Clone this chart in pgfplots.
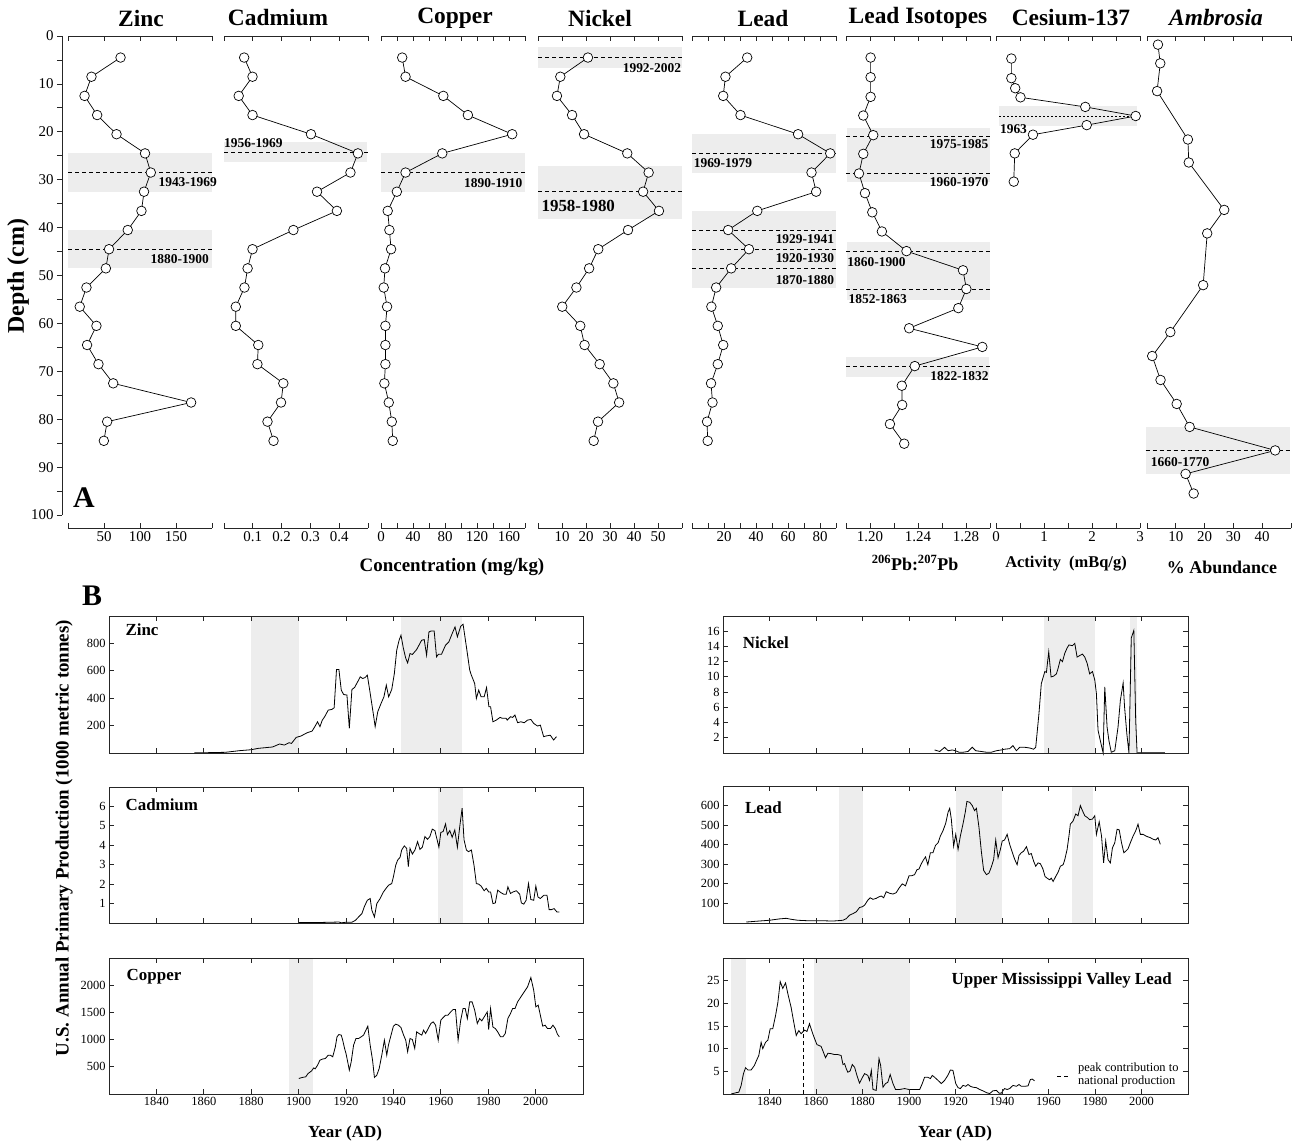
\documentclass[border=0pt]{standalone}
\usepackage{fontspec}
\setmainfont{Liberation Serif}
\usepackage{pgfplots}
\pgfplotsset{compat=1.18}
\definecolor{shade}{RGB}{237,237,237}
\newcommand\fs[1]{\fontsize{#1}{#1}\selectfont}
\tikzset{lab/.style={font=\bfseries\fs{13.5}, inner sep=0pt}}
\pgfplotsset{
  base/.style={scale only axis, anchor=north west, /pgf/number format/assume math mode=true,
    /pgf/number format/1000 sep={},
    axis line style={line width=0.8bp, black!85}, tick style={line width=0.8bp, black!85},
    major tick length=5bp, minor tick length=5bp, tick align=inside, clip=false},
  pA/.style={base, width=144bp, height=492bp, y dir=reverse, ymin=0, ymax=102.7,
     axis x line=box, axis y line=none, ytick=\empty,
     xticklabel style={font=\fs{15}}, extra x tick labels={}},
  dat/.style={black, line width=0.7bp, mark=*, mark size=4.8bp, mark options={fill=white, draw=black, line width=0.7bp}},
  band/.style={fill=shade, draw=none, forget plot},
  dsh/.style={black, line width=0.9bp, dash pattern=on 4bp off 3bp, forget plot},
  pB/.style={base, xmin=1820, xmax=2020, xtick={1840,1860,...,2000}, ymin=0,
     axis on top, ticklabel style={font=\fs{12.5}}},
  bl/.style={black, line width=0.8bp, no marks},
}
\begin{document}
\begin{tikzpicture}
\useasboundingbox (0,0) rectangle (1295bp,-1146bp);
% ---------------- Panel A ----------------
\begin{axis}[base, at={(62bp,-36bp)}, width=20bp, height=479bp, y dir=reverse, ymin=0, ymax=100,
  xmin=0, xmax=1, axis x line=none, axis y line*=left, ytick={0,10,...,100}, minor ytick={5,15,...,95},
  tick align=outside, yticklabel style={font=\fs{15}}]
\end{axis}
% Zinc
\begin{axis}[pA, at={(68bp,-36bp)}, xmin=0, xmax=200, xtick={50,100,150}, extra x ticks={0,200}]
\addplot[band] coordinates {(0,24.4) (200,24.4) (200,32.5) (0,32.5)};
\addplot[band] coordinates {(0,40.5) (200,40.5) (200,48.5) (0,48.5)};
\addplot[dsh] coordinates {(0,28.5) (200,28.5)};
\addplot[dsh] coordinates {(0,44.5) (200,44.5)};
\addplot[dat] coordinates {(73,4.5) (32.6,8.5) (23,12.5) (40.5,16.5) (67.4,20.5) (107,24.5) (115,28.5) (105.6,32.5) (102,36.5) (83,40.5) (57,44.5) (52.6,48.5) (25.6,52.5) (16.3,56.5) (39.5,60.5) (26.5,64.5) (42.3,68.5) (62.8,72.5) (171,76.5) (54.4,80.5) (49.8,84.5)};
\node[lab, anchor=east] at (axis cs:207,30.6) {1943-1969};
\node[lab, anchor=east] at (axis cs:196,46.6) {1880-1900};
\end{axis}
% Cadmium
\begin{axis}[pA, at={(224bp,-36bp)}, xmin=0, xmax=0.5, xtick={0.1,0.2,0.3,0.4}, xticklabels={0.1,0.2,0.3,0.4}, extra x ticks={0,0.5}]
\addplot[band] coordinates {(0,22.2) (0.495,22.2) (0.495,26.3) (0,26.3)};
\addplot[dsh] coordinates {(0,24.4) (0.5,24.4)};
\addplot[dat] coordinates {(0.07,4.5) (0.099,8.5) (0.051,12.5) (0.099,16.5) (0.302,20.5) (0.465,24.5) (0.439,28.5) (0.323,32.5) (0.392,36.5) (0.241,40.5) (0.099,44.5) (0.082,48.5) (0.071,52.5) (0.041,56.5) (0.041,60.5) (0.119,64.5) (0.116,68.5) (0.206,72.5) (0.198,76.5) (0.151,80.5) (0.172,84.5)};
\node[lab, anchor=west] at (axis cs:0,22.4) {1956-1969};
\end{axis}
% Copper
\begin{axis}[pA, at={(381bp,-36bp)}, xmin=0, xmax=180, xtick={0,40,80,120,160}, extra x ticks={20,60,100,140,180}]
\addplot[band] coordinates {(0,24.5) (180,24.5) (180,32.5) (0,32.5)};
\addplot[dsh] coordinates {(0,28.5) (180,28.5)};
\addplot[dat] coordinates {(26.5,4.5) (30.7,8.5) (77.9,12.5) (108.6,16.5) (164,20.5) (76.6,24.5) (30.7,28.5) (19.8,32.5) (8.4,36.5) (10.5,40.5) (12.6,44.5) (5,48.5) (3.4,52.5) (7.6,56.5) (5.5,60.5) (5.5,64.5) (5.5,68.5) (4.2,72.5) (9.7,76.5) (13.5,80.5) (14.7,84.5)};
\node[lab, anchor=east] at (axis cs:177,30.8) {1890-1910};
\end{axis}
% Nickel
\begin{axis}[pA, at={(538bp,-36bp)}, xmin=0, xmax=60, xtick={10,20,30,40,50}, extra x ticks={0,60}]
\addplot[band] coordinates {(0,2.2) (60,2.2) (60,6.7) (0,6.7)};
\addplot[band] coordinates {(0,27.2) (60,27.2) (60,38.1) (0,38.1)};
\addplot[dsh] coordinates {(0,4.5) (60,4.5)};
\addplot[dsh] coordinates {(0,32.5) (60,32.5)};
\addplot[dat] coordinates {(20.8,4.5) (9.3,8.5) (7.9,12.5) (14.2,16.5) (19.2,20.5) (37.2,24.5) (46.1,28.5) (43.8,32.5) (50.4,36.5) (37.5,40.5) (25.1,44.5) (21.3,48.5) (16,52.5) (10.1,56.5) (17.6,60.5) (19.4,64.5) (25.7,68.5) (31.4,72.5) (33.8,76.5) (25,80.5) (23.2,84.5)};
\node[lab, anchor=east] at (axis cs:59.7,6.6) {1992-2002};
\node[lab, font=\bfseries\fs{17}, anchor=west] at (axis cs:1.4,35.4) {1958-1980};
\end{axis}
% Lead
\begin{axis}[pA, at={(692bp,-36bp)}, xmin=0, xmax=90, xtick={20,40,60,80}, extra x ticks={0,10,30,50,70,90}]
\addplot[band] coordinates {(0,20.5) (90,20.5) (90,28.6) (0,28.6)};
\addplot[band] coordinates {(0,36.6) (90,36.6) (90,52.6) (0,52.6)};
\addplot[dsh] coordinates {(0,24.5) (90,24.5)};
\addplot[dsh] coordinates {(0,40.5) (90,40.5)};
\addplot[dsh] coordinates {(0,44.6) (90,44.6)};
\addplot[dsh] coordinates {(0,48.6) (90,48.6)};
\addplot[dat] coordinates {(34.5,4.5) (20.9,8.5) (19.5,12.5) (30.3,16.5) (66.3,20.5) (86.4,24.5) (74.7,28.5) (77.6,32.5) (40.8,36.5) (22.6,40.5) (35.6,44.5) (24.5,48.5) (15.1,52.5) (12.1,56.5) (16.1,60.5) (19.5,64.5) (16.1,68.5) (11.9,72.5) (12.8,76.5) (9.4,80.5) (9.8,84.5)};
\node[lab, anchor=west] at (axis cs:1,26.6) {1969-1979};
\node[lab, anchor=east] at (axis cs:88.9,42.3) {1929-1941};
\node[lab, anchor=east] at (axis cs:88.9,46.3) {1920-1930};
\node[lab, anchor=east] at (axis cs:88.9,50.9) {1870-1880};
\end{axis}
% Lead isotopes
\begin{axis}[pA, at={(846bp,-36bp)}, xmin=1.18, xmax=1.30, xtick={1.20,1.24,1.28}, xticklabels={1.20,1.24,1.28}, extra x ticks={1.18,1.22,1.26,1.30}]
\addplot[band] coordinates {(1.181,19.3) (1.30,19.3) (1.30,30.5) (1.181,30.5)};
\addplot[band] coordinates {(1.181,42.9) (1.30,42.9) (1.30,55.1) (1.181,55.1)};
\addplot[band] coordinates {(1.18,66.9) (1.299,66.9) (1.299,71.1) (1.18,71.1)};
\addplot[dsh] coordinates {(1.18,20.9) (1.30,20.9)};
\addplot[dsh] coordinates {(1.18,28.7) (1.30,28.7)};
\addplot[dsh] coordinates {(1.18,44.9) (1.30,44.9)};
\addplot[dsh] coordinates {(1.18,52.8) (1.30,52.8)};
\addplot[dsh] coordinates {(1.18,69.0) (1.30,69.0)};
\addplot[dat] coordinates {(1.2005,4.5) (1.2005,8.6) (1.2005,12.7) (1.1944,16.6) (1.2027,20.7) (1.1944,24.6) (1.1908,28.7) (1.1958,32.8) (1.2019,36.8) (1.2099,40.8) (1.2304,44.9) (1.2775,48.9) (1.2803,52.8) (1.2736,56.8) (1.2326,61.0) (1.2936,64.9) (1.2373,68.9) (1.2265,73.0) (1.2268,77.0) (1.2166,81.0) (1.2285,85.1)};
\node[lab, anchor=east] at (axis cs:1.2987,22.5) {1975-1985};
\node[lab, anchor=east] at (axis cs:1.2987,30.4) {1960-1970};
\node[lab, anchor=west] at (axis cs:1.181,47.2) {1860-1900};
\node[lab, anchor=west] at (axis cs:1.182,54.9) {1852-1863};
\node[lab, anchor=east] at (axis cs:1.299,71.0) {1822-1832};
\end{axis}
% Cesium
\begin{axis}[pA, at={(996bp,-36bp)}, xmin=0, xmax=3, xtick={0,1,2,3}, extra x ticks={0.5,1.5,2.5}]
\addplot[band] coordinates {(0.07,14.6) (2.93,14.6) (2.93,18.7) (0.07,18.7)};
\addplot[black, line width=0.9bp, dash pattern=on 2bp off 2bp, forget plot] coordinates {(0.07,16.7) (2.9,16.7)};
\addplot[dat] coordinates {(0.32,4.7) (0.32,8.8) (0.40,10.9) (0.51,12.8) (1.86,14.8) (2.91,16.7) (1.89,18.6) (0.77,20.6) (0.39,24.5) (0.37,30.4)};
\node[lab, anchor=west] at (axis cs:0.08,19.4) {1963};
\end{axis}
% Ambrosia
\begin{axis}[pA, at={(1147bp,-36bp)}, xmin=0, xmax=50, xtick={10,20,30,40}, extra x ticks={0,50}]
\addplot[band] coordinates {(-0.5,81.6) (49.5,81.6) (49.5,91.4) (-0.5,91.4)};
\addplot[dsh] coordinates {(-0.5,86.5) (49.5,86.5)};
\addplot[dat] coordinates {(3.8,1.8) (4.6,5.7) (3.5,11.5) (14.2,21.6) (14.5,26.4) (26.8,36.3) (20.9,41.2) (19.5,52) (8.1,61.8) (1.8,66.8) (4.7,71.8) (10.3,76.8) (14.8,81.6) (44.5,86.5) (13.4,91.4) (16.2,95.5)};
\node[lab, anchor=west] at (axis cs:1.3,89) {1660-1770};
\end{axis}
% titles
\begin{scope}[every node/.style={font=\bfseries\fs{23.5}}]
\node at (141bp,-18bp) {Zinc};
\node at (278bp,-18bp) {Cadmium};
\node at (455bp,-18bp) {Copper};
\node at (600bp,-18bp) {Nickel};
\node at (763bp,-18bp) {Lead};
\node at (918bp,-18bp) {Lead Isotopes};
\node at (1071bp,-18bp) {Cesium-137};
\node at (1216bp,-18bp) {\itshape Ambrosia};
\end{scope}
\node[font=\bfseries\fs{24}, rotate=90] at (18bp,-276bp) {Depth (cm)};
\node[font=\bfseries\fs{30}] at (84bp,-498bp) {A};
\node[font=\bfseries\fs{19}] at (452bp,-567bp) {Concentration (mg/kg)};
\node[font=\bfseries\fs{18}] at (915bp,-563bp) {\textsuperscript{206}Pb:\textsuperscript{207}Pb};
\node[font=\bfseries\fs{16.5}] at (1066bp,-564bp) {Activity\ \ (mBq/g)};
\node[font=\bfseries\fs{18}] at (1222bp,-567bp) {\% Abundance};
% ---------------- Panel B ----------------
\node[font=\bfseries\fs{30}] at (92bp,-596bp) {B};
% Zinc
\begin{axis}[pB, at={(109bp,-616bp)}, width=474bp, height=137bp, ymax=1000, ytick={200,400,600,800}, xticklabels={}]
\addplot[band] coordinates {(1880,0) (1900,0) (1900,1000) (1880,1000)};
\addplot[band] coordinates {(1943,0) (1969,0) (1969,1000) (1943,1000)};
\addplot[bl] coordinates {(1856,1) (1860,2) (1869,5) (1875,17) (1880,24) (1883,34) (1889,44) (1892,66) (1894,58) (1896,75) (1897,70) (1899,114) (1901,124) (1903.6,148) (1905.7,160) (1907,197) (1908,228) (1909,192) (1910,240) (1911,265) (1912.5,313) (1914,318) (1915,330) (1916,610) (1917,610) (1918,459) (1919,427) (1920.4,423) (1921.4,180) (1922.5,464) (1923.6,478) (1925.3,532) (1926,556) (1927,544) (1928,550) (1929,568) (1930,459) (1931.6,277) (1932.3,192) (1933.4,301) (1934.8,362) (1936,410) (1937,495) (1938,410) (1939.3,464) (1940.4,580) (1941.4,750) (1942.4,823) (1943.2,860) (1944.2,765) (1945.2,692) (1946,658) (1947,726) (1948,719) (1949.8,755) (1951.9,823) (1953,828) (1954,714) (1955,884) (1956,891) (1957.2,891) (1958.2,702) (1959,721) (1960.3,721) (1962,787) (1963.4,811) (1964.8,872) (1966,920) (1967,848) (1968.4,925) (1969.4,940) (1970.8,775) (1972.2,605) (1972.9,568) (1974.3,507) (1975,398) (1976,459) (1977,410) (1978.3,410) (1979.3,478) (1980.3,338) (1981,338) (1982,228) (1983.4,240) (1985,260) (1986,253) (1987.6,253) (1988,240) (1989.4,265) (1990.3,260) (1991.3,277) (1992.4,221) (1993.8,228) (1995.2,221) (1996.6,240) (1998,245) (1999.2,216) (2000.8,197) (2002,204) (2003.4,119) (2004.3,124) (2006.2,130) (2007.6,95) (2008.8,119)};
\node[font=\bfseries\fs{17}, anchor=west] at (axis cs:1825.5,900) {Zinc};
\end{axis}
% Cadmium
\begin{axis}[pB, at={(109bp,-787bp)}, width=474bp, height=136bp, ymax=7, ytick={1,2,3,4,5,6}, xticklabels={}]
\addplot[band] coordinates {(1959,0) (1969.5,0) (1969.5,7) (1959,7)};
\addplot[bl] coordinates {(1900,0.02) (1910,0.03) (1917,0.05) (1918,0.01) (1920,0.04) (1922.5,0.04) (1924,0.14) (1925.3,0.31) (1926.7,0.48) (1927.8,0.86) (1929,1.17) (1930.2,1.26) (1930.9,0.66) (1932,0.31) (1933,1.0) (1934.4,1.26) (1935.8,1.6) (1937.2,1.83) (1938,1.95) (1939.3,2.03) (1940,2.38) (1941,2.98) (1941.8,3.24) (1942.8,3.38) (1943.5,3.76) (1944.6,3.97) (1945.6,3.84) (1946.3,2.9) (1947,3.84) (1948,3.55) (1949.1,3.76) (1950.2,4.19) (1951.2,3.79) (1952.2,3.9) (1953.3,4.45) (1954.4,4.31) (1955.4,4.45) (1956.4,4.83) (1957.5,4.76) (1959.2,3.9) (1960,4.66) (1961,4.71) (1962,5.1) (1962.8,4.55) (1963.8,4.76) (1964.8,4.41) (1965.9,4.79) (1967,3.9) (1968,4.97) (1969,5.91) (1969.8,4.28) (1970.8,3.76) (1971.7,3.67) (1972.9,3.76) (1974,2.98) (1975,2.03) (1976,2.0) (1977,1.9) (1978.3,1.66) (1979.2,1.78) (1980.2,1.6) (1981,1.6) (1982,1.0) (1983,1.03) (1984,1.69) (1985.5,1.55) (1986.6,1.48) (1987.6,1.48) (1988.3,1.86) (1989.4,1.52) (1990.5,1.6) (1991.9,1.66) (1993.3,1.48) (1994,1.03) (1995,0.97) (1996,1.17) (1997,2.03) (1998,1.21) (1999.2,1.17) (2000.1,1.9) (2001,1.34) (2002,1.26) (2003.5,1.43) (2004.8,1.43) (2005.7,0.69) (2006.7,0.69) (2007.8,0.74) (2009,0.57) (2010,0.57)};
\node[font=\bfseries\fs{17}, anchor=west] at (axis cs:1825.5,6.1) {Cadmium};
\end{axis}
% Copper
\begin{axis}[pB, at={(109bp,-958bp)}, width=474bp, height=136bp, ymax=2500, ytick={500,1000,1500,2000}]
\addplot[band] coordinates {(1896,0) (1906,0) (1906,2500) (1896,2500)};
\addplot[bl] coordinates {(1900.1,286) (1901.5,304) (1903,316) (1904,377) (1905.5,426) (1906.4,481) (1907,463) (1908,530) (1909,622) (1910,641) (1911.3,653) (1912.5,714) (1913.4,714) (1914.4,684) (1915.5,867) (1916.2,1051) (1917,1094) (1918,1082) (1918.6,990) (1919.4,837) (1920,745) (1920.8,573) (1921.4,439) (1922.2,592) (1923.2,898) (1924.2,1020) (1925.3,1020) (1926.4,1051) (1927.4,1082) (1928.4,1174) (1929.2,1247) (1930.2,898) (1931.2,622) (1932,304) (1933,347) (1934,469) (1935.1,714) (1936.2,990) (1937.2,714) (1937.9,898) (1939,1082) (1940,1247) (1941,1284) (1942.1,1265) (1943.2,1222) (1944.2,1094) (1945.2,990) (1946,776) (1947,1020) (1948,1002) (1949,837) (1949.8,1143) (1950.8,1112) (1952,1082) (1952.7,1174) (1953.6,1112) (1954.7,1204) (1955.8,1296) (1956.8,1327) (1957.8,1265) (1958.9,990) (1960,1357) (1961,1406) (1962,1449) (1963,1449) (1964.2,1510) (1965.2,1553) (1966.2,1553) (1967.3,990) (1968.4,1357) (1969.4,1571) (1970.3,1571) (1971.2,1388) (1972.2,1694) (1973.2,1694) (1974.3,1541) (1975.4,1296) (1976.4,1388) (1977.3,1345) (1978.5,1430) (1979.6,1510) (1980.2,1186) (1981,1571) (1982,1230) (1983,1204) (1984,1143) (1985.2,1051) (1986.2,1051) (1987.2,1112) (1988.3,1388) (1989.4,1480) (1990.3,1571) (1991.3,1571) (1992.4,1694) (1993.8,1786) (1995.2,1878) (1996.6,1970) (1998,2141) (1999.2,1908) (2000.1,1602) (2001.1,1633) (2002,1449) (2003,1247) (2004,1265) (2005,1204) (2006.3,1204) (2007.3,1265) (2008.3,1204) (2009.2,1100) (2010,1051)};
\node[font=\bfseries\fs{17}, anchor=west] at (axis cs:1826,2150) {Copper};
\end{axis}
% Nickel
\begin{axis}[pB, at={(723bp,-616bp)}, width=465bp, height=137bp, ymax=18, ytick={2,4,...,16}, xticklabels={}]
\addplot[band] coordinates {(1958,0) (1980,0) (1980,18) (1958,18)};
\addplot[band] coordinates {(1995,0) (1998,0) (1998,18) (1995,18)};
\addplot[bl] coordinates {(1900,0) (1903.8,0)};
\addplot[bl] coordinates {(1911,0.4) (1913.2,0.2) (1915.3,0.75) (1916.8,0.3) (1918.6,0.4) (1920,0.3) (1921.5,0.1) (1923.2,0.1) (1925.4,0.2) (1927.2,0.75) (1928.7,0.3) (1931.1,0.2) (1933.3,0.1) (1935.4,0.1) (1937.6,0.3) (1939.7,0.4) (1941.1,0.5) (1943.3,0.57) (1944.7,0.97) (1946.2,0.3) (1947.6,0.75) (1949.8,0.75) (1951.9,0.66) (1953.6,0.5) (1954.5,0.75) (1955.9,5.2) (1956.9,9.1) (1958.4,10.7) (1959.1,10.6) (1960.1,13.3) (1961.1,10.0) (1962.2,10.1) (1963.4,10.4) (1964.1,11.1) (1965.1,12.3) (1966,12.0) (1967,13.1) (1968,13.8) (1968.8,14.2) (1970.3,14.1) (1971.3,14.4) (1972.3,12.6) (1973.4,12.8) (1974.6,13.0) (1975.6,12.6) (1976.6,11.8) (1977.7,10.4) (1978.9,10.7) (1979.9,9.6) (1980.6,7.8) (1981.3,3.0) (1982.3,1.6) (1983.5,0) (1984.2,8.7) (1985.2,3.4) (1986,1.6) (1987,0.1) (1988.5,0.3) (1989.9,3.4) (1990.9,6.9) (1992.1,9.2) (1992.7,6.1) (1993.7,2.5) (1994.6,0) (1995.6,15.1) (1996.7,16.1) (1997.5,4.3) (1998.1,0) (2000,0) (2005,0) (2010,0)};
\addplot[black!70, line width=1.6bp, no marks] coordinates {(1998.1,0) (2010,0)};
\node[font=\bfseries\fs{17}, anchor=west] at (axis cs:1827,14.5) {Nickel};
\end{axis}
% Lead
\begin{axis}[pB, at={(723bp,-786bp)}, width=465bp, height=137bp, ymax=700, ytick={100,200,...,600}, xticklabels={}]
\addplot[band] coordinates {(1870,0) (1880,0) (1880,700) (1870,700)};
\addplot[band] coordinates {(1920,0) (1940,0) (1940,700) (1920,700)};
\addplot[band] coordinates {(1970,0) (1979,0) (1979,700) (1970,700)};
\addplot[bl] coordinates {(1830,5) (1834.3,9) (1840,14) (1844.3,21) (1847.2,24) (1849.3,19) (1852.2,14) (1855.8,12) (1861.5,12) (1867.3,10) (1871.6,14) (1873,22) (1874.4,40) (1875.9,48) (1877.3,57) (1878.7,79) (1879.9,83) (1880.9,91) (1882.3,117) (1883.3,129) (1884.5,121) (1885.9,126) (1887.1,134) (1888.1,138) (1889.1,129) (1890.2,160) (1891.6,152) (1893.1,148) (1894.5,155) (1895.7,178) (1897.1,200) (1898.5,190) (1900,241) (1901,241) (1902.4,247) (1903.4,272) (1904.3,276) (1905.3,303) (1906.3,324) (1907.1,338) (1908.1,298) (1909.2,359) (1910.3,359) (1911.4,397) (1912.5,410) (1913.5,445) (1914.6,471) (1915.8,510) (1916.8,566) (1917.5,586) (1918.2,531) (1919.2,393) (1920.1,453) (1921.1,376) (1922.1,445) (1923.2,505) (1924.2,566) (1924.9,621) (1926.1,617) (1927.2,600) (1928.2,574) (1929,586) (1930.1,488) (1931.1,367) (1932.1,269) (1933.3,247) (1934.4,255) (1935.4,286) (1936.4,324) (1937.3,424) (1938.3,333) (1939.3,376) (1940.1,419) (1941.1,424) (1942.2,453) (1943.3,402) (1944.4,362) (1945.5,324) (1946.5,298) (1947.3,345) (1948.3,359) (1949.3,367) (1950.5,390) (1951.6,350) (1952.6,355) (1953.6,316) (1954.5,290) (1955.5,307) (1956.5,303) (1957.6,276) (1958.5,238) (1959.4,229) (1960.5,221) (1961.2,229) (1962,212) (1963.1,238) (1964.1,259) (1965.1,290) (1966.3,298) (1967,324) (1968,376) (1968.8,445) (1969.4,505) (1970.6,522) (1971.7,557) (1972.7,548) (1973.7,600) (1974.6,574) (1975.6,548) (1976.6,540) (1977.7,528) (1978.9,531) (1979.9,548) (1980.6,453) (1981.8,517) (1982.8,445) (1983.7,307) (1984.6,419) (1985.6,324) (1986.6,307) (1987.5,384) (1988.5,410) (1989.5,479) (1990.4,476) (1991.4,410) (1992.4,359) (1993.2,367) (1994.2,379) (1995.2,410) (1996.4,445) (1997.5,471) (1998.5,505) (1999.5,453) (2000.7,453) (2001.8,445) (2002.8,440) (2003.8,436) (2005,428) (2006.1,424) (2007.1,436) (2008.1,402)};
\node[font=\bfseries\fs{17}, anchor=west] at (axis cs:1828,590) {Lead};
\end{axis}
% Upper Mississippi Valley Lead
\begin{axis}[pB, at={(723bp,-958bp)}, width=465bp, height=136bp, ymax=30, ytick={5,10,15,20,25}]
\addplot[band] coordinates {(1823.5,0) (1830,0) (1830,30) (1823.5,30)};
\addplot[band] coordinates {(1859,0) (1900.3,0) (1900.3,30) (1859,30)};
\addplot[dsh] coordinates {(1854.5,0) (1854.5,30)};
\addplot[bl] coordinates {(1823.5,0) (1825.7,0.3) (1826.8,0.4) (1827.8,1.9) (1828.8,4.5) (1829.7,5.8) (1830.7,5.3) (1832.1,5.3) (1833.5,6.3) (1834.5,7.5) (1835.4,8.5) (1836.4,11.4) (1837.1,10.0) (1838.3,11.4) (1839.3,11.9) (1840.3,14.4) (1841.4,14.4) (1842.6,17.3) (1843.6,20.2) (1844.6,24.8) (1845.7,23.3) (1846.9,24.5) (1847.9,22.1) (1849.3,19.1) (1850.3,16.2) (1851.5,12.9) (1852.6,14.0) (1853.6,13.3) (1855.1,14.1) (1856.1,13.8) (1857.2,15.5) (1858.4,13.6) (1859.4,12.2) (1860.4,10.9) (1862.2,10.5) (1863.2,9.2) (1864.1,8.0) (1865.1,9.0) (1866.5,8.9) (1868,8.7) (1869.4,8.7) (1870.8,8.5) (1871.6,6.5) (1872.3,6.7) (1873,5.6) (1873.7,4.8) (1874.7,5.1) (1875.6,6.5) (1876.6,5.9) (1877.6,4.1) (1878.7,2.4) (1879.9,3.6) (1880.9,4.5) (1882.3,4.1) (1883,3.0) (1883.8,5.2) (1884.5,1.0) (1885.9,0.8) (1887.1,7.8) (1887.8,6.3) (1888.8,1.5) (1889.9,2.3) (1890.9,2.6) (1891.9,4.3) (1893.1,2.3) (1894.2,1.0) (1896,1.0) (1898.1,1.2) (1900,1.0) (1901.7,1.0) (1904.6,1.0) (1905.7,2.3) (1906.7,3.7) (1908.1,3.7) (1909.2,3.4) (1910,4.1) (1911,3.7) (1912.5,3.0) (1913.9,2.3) (1915.3,3.0) (1916.7,4.1) (1917.8,5.3) (1918.9,5.2) (1920.1,2.3) (1921.1,1.4) (1922.1,1.2) (1923.2,1.9) (1924.4,1.7) (1925.4,2.1) (1926.4,1.7) (1927.5,1.5) (1929,1.4) (1930.4,1.0) (1931.8,0.7) (1933.3,0.3) (1934.7,0.1) (1936.1,0.7) (1937.6,0.8) (1938.7,0.2) (1939.7,0.2) (1941.1,1.2) (1942.2,1.0) (1943.3,1.2) (1944.7,1.9) (1946.2,1.7) (1947.3,2.1) (1948.3,1.7) (1949.8,1.7) (1951.2,1.8) (1952.2,3.2) (1953,3.3) (1954,2.9)};
\node[font=\bfseries\fs{17}, anchor=east] at (axis cs:2014.5,25) {Upper Mississippi Valley Lead};
\end{axis}
\draw[black, line width=0.9bp, dash pattern=on 4bp off 3bp] (1057bp,-1076bp) -- (1069bp,-1076bp);
\node[font=\fs{12.5}, anchor=west, align=left, inner sep=0pt] at (1078bp,-1075bp) {peak contribution to\\national production};
\node[font=\bfseries\fs{19}, rotate=90] at (64bp,-838bp) {U.S. Annual Primary Production (1000 metric tonnes)};
\node[font=\bfseries\fs{17}] at (345bp,-1133bp) {Year (AD)};
\node[font=\bfseries\fs{17}] at (955bp,-1133bp) {Year (AD)};
\end{tikzpicture}
\end{document}
